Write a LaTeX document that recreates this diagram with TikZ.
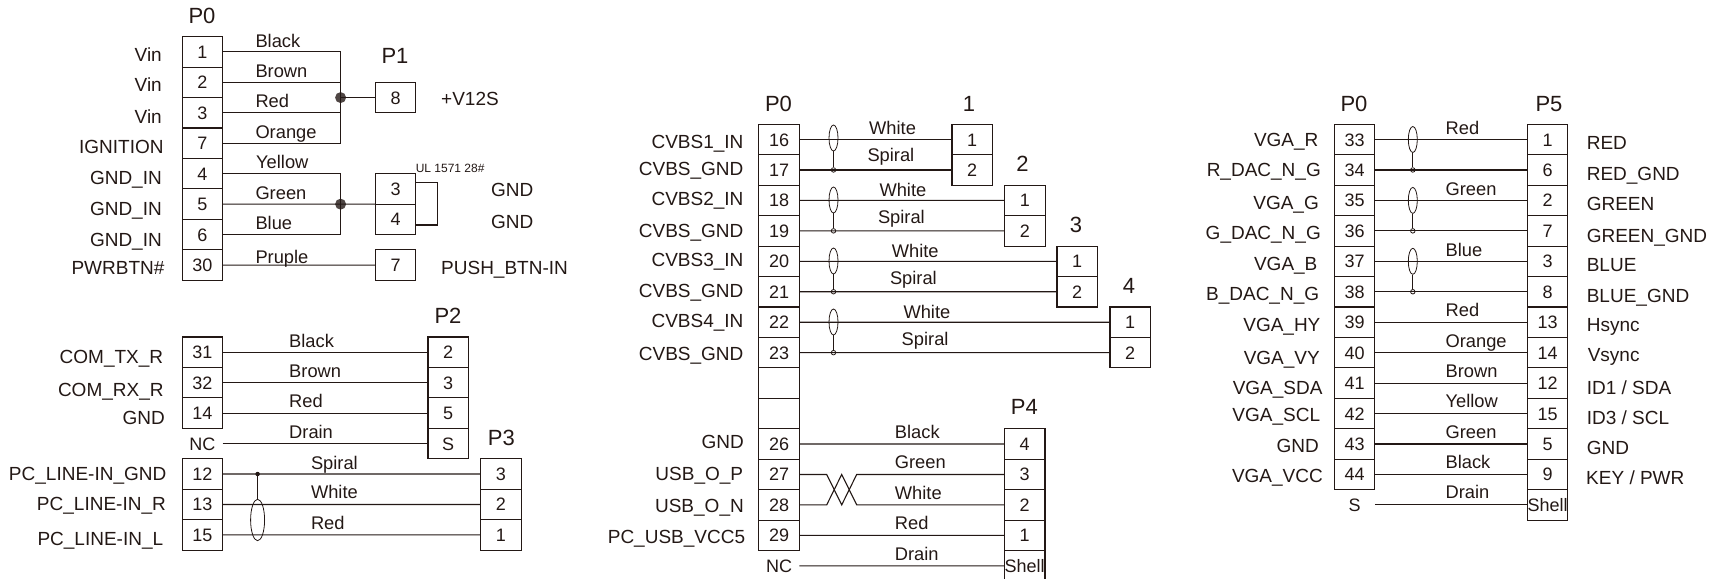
\documentclass[tikz,border=0pt]{standalone}
\usepackage{fontspec}
\setmainfont{Liberation Sans}
\usetikzlibrary{positioning,shapes.geometric}
\definecolor{ink}{HTML}{231815}

\begin{document}
\begin{tikzpicture}[
        x=1pt, y=-1pt,
        node distance=0pt,
        every node/.append style={text=ink},
        conn/.style={draw=ink, line width=1.1pt, minimum width=40.5pt, minimum height=30.45pt, inner sep=0pt, outer sep=0pt, text height=13pt, text depth=0pt, font=\fontsize{18}{20}\selectfont},
        free/.style={conn, draw=none},
        wire/.style={draw=ink, line width=1.1pt},
        hdr/.style={inner sep=0pt, text height=15.5pt, text depth=0pt, font=\fontsize{22}{24}\selectfont},
        sig/.style={inner sep=0pt, anchor=east, text height=13.8pt, text depth=0pt, font=\fontsize{19}{22}\selectfont},
        sigr/.style={sig, anchor=west},
        wirelab/.style={inner sep=0pt, anchor=west, text height=13.2pt, text depth=0pt, font=\fontsize{18.3}{20}\selectfont},
        dot/.style={circle, fill=ink!80, minimum size=11pt, inner sep=0pt},
        tap/.style={circle, draw=ink, line width=.8pt, minimum size=4.5pt, inner sep=0pt},
        shield/.style={ellipse, draw=ink, line width=.8pt, minimum width=9pt, minimum height=26pt, inner sep=0pt}
      ]
      \path[use as bounding box] (0,0) rectangle (1723,578);

      % --- Power block ---
      \node[hdr] (hp0) at (202,15.7) {P0};
      \node[conn] (a1) at (202.3,51.9) {1};
      \node[conn, below=of a1] (a2) {2};
      \node[conn, below=of a2] (a3) {3};
      \node[conn, below=of a3] (a7) {7};
      \node[conn, below=of a7] (a4) {4};
      \node[conn, below=of a4] (a5) {5};
      \node[conn, below=of a5] (a6) {6};
      \node[conn, below=of a6] (a30) {30};

      \node[hdr] (hp1) at (395,56) {P1};
      \node[conn] (b8) at (395.5,97.6) {8};
      \node[conn] (b3) at (395.5,188.9) {3};
      \node[conn, below=of b3] (b4) {4};
      \node[conn] (b7) at (395.5,265.05) {7};
      \node[dot] (j1) at (340.6,97.6) {};
      \node[dot] (j2) at (340.6,204.15) {};
      \coordinate (loop1) at (437.4,182.3);
      \coordinate (loop2) at (437.4,225);

      \node[sig] (s1) at (162,54.3) {Vin};
      \node[sig] (s2) at (162,84.3) {Vin};
      \node[sig] (s3) at (162,116.7) {Vin};
      \node[sig] (s7) at (163.8,147) {IGNITION};
      \node[sig] (s4) at (162,177.3) {GND\_IN};
      \node[sig] (s5) at (162,208.7) {GND\_IN};
      \node[sig] (s6) at (162,240) {GND\_IN};
      \node[sig] (s30) at (164.6,267.7) {PWRBTN\#};
      \node[sigr] (v12) at (441,98.3) {+V12S};
      \node[sigr] (g3) at (491,189.3) {GND};
      \node[sigr] (g4) at (491,221.3) {GND};
      \node[sigr] (btn) at (441,267.7) {PUSH\_BTN-IN};
      \node[inner sep=0pt, anchor=west, font=\fontsize{12}{14}\selectfont] (ul) at (415.6,168) {UL 1571 28\#};

      \node[wirelab] (w1) at (255.3,40.7) {Black};
      \node[wirelab] (w2) at (255.3,71) {Brown};
      \node[wirelab] (w3) at (255.3,101) {Red};
      \node[wirelab] (w7) at (255.3,132) {Orange};
      \node[wirelab] (w4) at (256,162.3) {Yellow};
      \node[wirelab] (w5) at (255.3,192.7) {Green};
      \node[wirelab] (w6) at (255.3,223) {Blue};
      \node[wirelab] (w30) at (255.3,257.3) {Pruple};

      \draw[wire] (a1.east) -| (j1.center);
      \draw[wire] (a2.east) -| (j1.center);
      \draw[wire] (a3.east) -| (j1.center);
      \draw[wire] (a7.east) -| (j1.center);
      \draw[wire] (j1.center) -- (b8.west);
      \draw[wire] (a4.east) -| (j2.center);
      \draw[wire] (a5.east) -- (j2.center) -- (b3.south west);
      \draw[wire] (a6.east) -| (j2.center);
      \draw[wire] (a30.east) -- (b7.west);
      \draw[wire] (b3.east |- loop1) -- (loop1) -- (loop2) -- (b4.east |- loop2);

      % --- COM block ---
      \node[hdr] (hp2) at (448,315.3) {P2};
      \node[hdr] (hp3) at (501.3,437.7) {P3};
      \node[conn] (c31) at (202.3,352.2) {31};
      \node[conn, below=of c31] (c32) {32};
      \node[conn, below=of c32] (c14) {14};
      \node[free, below=of c14] (cnc) {NC};
      \node[conn, below=of cnc] (c12) {12};
      \node[conn, below=of c12] (c13) {13};
      \node[conn, below=of c13] (c15) {15};

      \node[conn] (d2) at (448.2,352.2) {2};
      \node[conn, below=of d2] (d3) {3};
      \node[conn, below=of d3] (d5) {5};
      \node[conn, below=of d5] (dS) {S};
      \node[conn] (e3) at (500.8,474) {3};
      \node[conn, below=of e3] (e2) {2};
      \node[conn, below=of e2] (e1) {1};

      \node[sig] (sc1) at (163.4,356.3) {COM\_TX\_R};
      \node[sig] (sc2) at (163.8,389.7) {COM\_RX\_R};
      \node[sig] (sc3) at (165,417.3) {GND};
      \node[sig] (sl1) at (166.5,474) {PC\_LINE-IN\_GND};
      \node[sig] (sl2) at (166,503.3) {PC\_LINE-IN\_R};
      \node[sig] (sl3) at (163.4,539) {PC\_LINE-IN\_L};

      \node[wirelab] (wc1) at (289,340.7) {Black};
      \node[wirelab] (wc2) at (289,371) {Brown};
      \node[wirelab] (wc3) at (289,401.3) {Red};
      \node[wirelab] (wc4) at (289,431.7) {Drain};
      \node[wirelab] (wl1) at (310.8,462.7) {Spiral};
      \node[wirelab] (wl2) at (310.8,492.3) {White};
      \node[wirelab] (wl3) at (310.8,522.7) {Red};

      \draw[wire] (c31.east) -- (d2.west);
      \draw[wire] (c32.east) -- (d3.west);
      \draw[wire] (c14.east) -- (d5.west);
      \draw[wire] (cnc.east) -- (dS.west);
      \draw[wire] (c12.east) -- (e3.west);
      \draw[wire] (c13.east) -- (e2.west);
      \draw[wire] (c15.east) -- (e1.west);

      \node[shield, minimum width=14pt, minimum height=41.4pt] (shl) at (257.6,520) {};
      \node[circle, fill=ink, minimum size=4.5pt, inner sep=0pt] (tl) at (257.6,474) {};
      \draw[wire, line width=.8pt] (tl) -- (shl.north);

      % --- CVBS and USB block ---
      \node[hdr] (hp0b) at (778.5,103.3) {P0};
      \node[conn] (f16) at (779,139.5) {16};
      \node[conn, below=of f16] (f17) {17};
      \node[conn, below=of f17] (f18) {18};
      \node[conn, below=of f18] (f19) {19};
      \node[conn, below=of f19] (f20) {20};
      \node[conn, below=of f20] (f21) {21};
      \node[conn, below=of f21] (f22) {22};
      \node[conn, below=of f22] (f23) {23};
      \node[conn, below=of f23] (fa) {};
      \node[conn, below=of fa] (fb) {};
      \node[conn, below=of fb] (f26) {26};
      \node[conn, below=of f26] (f27) {27};
      \node[conn, below=of f27] (f28) {28};
      \node[conn, below=of f28] (f29) {29};
      \node[free, below=of f29] (fnc) {NC};

      \node[hdr] (h1) at (969,103.3) {1};
      \node[conn] (k1a) at (972.2,139.5) {1};
      \node[conn, below=of k1a] (k1b) {2};
      \node[hdr] (h2) at (1022.5,164) {2};
      \node[conn] (k2a) at (1024.8,200.4) {1};
      \node[conn, below=of k2a] (k2b) {2};
      \node[hdr] (h3) at (1076,224.7) {3};
      \node[conn] (k3a) at (1077.2,261.3) {1};
      \node[conn, below=of k3a] (k3b) {2};
      \node[hdr] (h4) at (1129,285.7) {4};
      \node[conn] (k4a) at (1130.2,322.2) {1};
      \node[conn, below=of k4a] (k4b) {2};

      \node[hdr] (hp4) at (1024.3,406.7) {P4};
      \node[conn] (m4) at (1024.7,444) {4};
      \node[conn, below=of m4] (m3) {3};
      \node[conn, below=of m3] (m2) {2};
      \node[conn, below=of m2] (m1) {1};
      \node[conn, below=of m1] (ms) {Shell};

      \node[sig] (t1) at (743.6,141.3) {CVBS1\_IN};
      \node[sig] (t2) at (743.6,168.3) {CVBS\_GND};
      \node[sig] (t3) at (743.6,198.7) {CVBS2\_IN};
      \node[sig] (t4) at (743.6,231) {CVBS\_GND};
      \node[sig] (t5) at (743.6,259.7) {CVBS3\_IN};
      \node[sig] (t6) at (743.6,290.3) {CVBS\_GND};
      \node[sig] (t7) at (743.6,320.7) {CVBS4\_IN};
      \node[sig] (t8) at (743.6,353.3) {CVBS\_GND};
      \node[sig] (t9) at (744,441.7) {GND};
      \node[sig] (t10) at (743.3,473.3) {USB\_O\_P};
      \node[sig] (t11) at (744,505.7) {USB\_O\_N};
      \node[sig] (t12) at (745.3,536.3) {PC\_USB\_VCC5};

      \node[wirelab] (x1) at (869,127.7) {White};
      \node[wirelab] (x2) at (867.3,154.7) {Spiral};
      \node[wirelab] (x3) at (879.3,190.3) {White};
      \node[wirelab] (x4) at (877.8,217.3) {Spiral};
      \node[wirelab] (x5) at (891.6,251.3) {White};
      \node[wirelab] (x6) at (889.8,278) {Spiral};
      \node[wirelab] (x7) at (903.3,311.7) {White};
      \node[wirelab] (x8) at (901.5,339) {Spiral};
      \node[wirelab] (x9) at (894.7,431.7) {Black};
      \node[wirelab] (x10) at (894.7,462.3) {Green};
      \node[wirelab] (x11) at (894.7,492.7) {White};
      \node[wirelab] (x12) at (894.7,523.3) {Red};
      \node[wirelab] (x13) at (894.7,553.7) {Drain};

      \draw[wire] (f16.east) -- (k1a.west);
      \draw[wire] (f17.east) -- (k1b.west);
      \draw[wire] (f18.east) -- (k2a.west);
      \draw[wire] (f19.east) -- (k2b.west);
      \draw[wire] (f20.east) -- (k3a.west);
      \draw[wire] (f21.east) -- (k3b.west);
      \draw[wire] (f22.east) -- (k4a.west);
      \draw[wire] (f23.east) -- (k4b.west);
      \draw[wire] (f26.east) -- (m4.west);
      \draw[wire] (f29.east) -- (m1.west);
      \draw[wire] (fnc.east) -- (ms.west);

      % twisted pair
      \coordinate (tw1) at (826.7,474.45);
      \coordinate (tw2) at (841.7,504.9);
      \coordinate (tw3) at (856.7,474.45);
      \coordinate (tw4) at (826.7,504.9);
      \coordinate (tw5) at (841.7,474.45);
      \coordinate (tw6) at (856.7,504.9);
      \draw[wire] (f27.east) -- (tw1) -- (tw2) -- (tw3) -- (m3.west);
      \draw[wire] (f28.east) -- (tw4) -- (tw5) -- (tw6) -- (m2.west);

      % shields
      \node[shield] (sh1) at (833.5,138) {};
      \node[tap] (tp1) at (833.5,169.95) {};
      \node[shield] (sh2) at (833.5,200) {};
      \node[tap] (tp2) at (833.5,230.85) {};
      \node[shield] (sh3) at (833.5,261) {};
      \node[tap] (tp3) at (833.5,291.75) {};
      \node[shield] (sh4) at (833.5,322) {};
      \node[tap] (tp4) at (833.5,352.65) {};
      \draw[wire, line width=.8pt] (sh1.south) -- (tp1);
      \draw[wire, line width=.8pt] (sh2.south) -- (tp2);
      \draw[wire, line width=.8pt] (sh3.south) -- (tp3);
      \draw[wire, line width=.8pt] (sh4.south) -- (tp4);

      % --- VGA block ---
      \node[hdr] (hp0c) at (1354,104) {P0};
      \node[hdr] (hp5) at (1549,104) {P5};
      \node[conn] (g33) at (1354.5,139.5) {33};
      \node[conn, below=of g33] (g34) {34};
      \node[conn, below=of g34] (g35) {35};
      \node[conn, below=of g35] (g36) {36};
      \node[conn, below=of g36] (g37) {37};
      \node[conn, below=of g37] (g38) {38};
      \node[conn, below=of g38] (g39) {39};
      \node[conn, below=of g39] (g40) {40};
      \node[conn, below=of g40] (g41) {41};
      \node[conn, below=of g41] (g42) {42};
      \node[conn, below=of g42] (g43) {43};
      \node[conn, below=of g43] (g44) {44};
      \node[free, below=of g44] (gs) {S};

      \node[conn] (n1) at (1547.5,139.5) {1};
      \node[conn, below=of n1] (n6) {6};
      \node[conn, below=of n6] (n2) {2};
      \node[conn, below=of n2] (n7) {7};
      \node[conn, below=of n7] (n3) {3};
      \node[conn, below=of n3] (n8) {8};
      \node[conn, below=of n8] (n13) {13};
      \node[conn, below=of n13] (n14) {14};
      \node[conn, below=of n14] (n12) {12};
      \node[conn, below=of n12] (n15) {15};
      \node[conn, below=of n15] (n5) {5};
      \node[conn, below=of n5] (n9) {9};
      \node[conn, below=of n9] (ns) {Shell};

      \node[sig] (v1) at (1318.6,140) {VGA\_R};
      \node[sig] (v2) at (1321,170) {R\_DAC\_N\_G};
      \node[sig] (v3) at (1319,202.3) {VGA\_G};
      \node[sig] (v4) at (1321,232.3) {G\_DAC\_N\_G};
      \node[sig] (v5) at (1317.6,263.3) {VGA\_B};
      \node[sig] (v6) at (1319.3,294) {B\_DAC\_N\_G};
      \node[sig] (v7) at (1320.6,324.3) {VGA\_HY};
      \node[sig] (v8) at (1320,357.3) {VGA\_VY};
      \node[sig] (v9) at (1322.7,387.7) {VGA\_SDA};
      \node[sig] (v10) at (1320.3,414.3) {VGA\_SCL};
      \node[sig] (v11) at (1319,446) {GND};
      \node[sig] (v12b) at (1323,475.7) {VGA\_VCC};

      \node[sigr] (r1) at (1586.6,142.7) {RED};
      \node[sigr] (r2) at (1586.6,173.3) {RED\_GND};
      \node[sigr] (r3) at (1586.6,204) {GREEN};
      \node[sigr] (r4) at (1586.6,235.7) {GREEN\_GND};
      \node[sigr] (r5) at (1586.6,264.3) {BLUE};
      \node[sigr] (r6) at (1586.6,295.7) {BLUE\_GND};
      \node[sigr] (r7) at (1586.6,325) {Hsync};
      \node[sigr] (r8) at (1587.6,354.3) {Vsync};
      \node[sigr] (r9) at (1586.6,387.7) {ID1 / SDA};
      \node[sigr] (r10) at (1586.6,417.3) {ID3 / SCL};
      \node[sigr] (r11) at (1586.6,447.7) {GND};
      \node[sigr] (r12) at (1586,477.7) {KEY / PWR};

      \node[wirelab] (y1) at (1445.4,127.7) {Red};
      \node[wirelab] (y2) at (1445.4,189) {Green};
      \node[wirelab] (y3) at (1445.4,249.7) {Blue};
      \node[wirelab] (y4) at (1445.4,310) {Red};
      \node[wirelab] (y5) at (1445.4,341) {Orange};
      \node[wirelab] (y6) at (1445.4,371) {Brown};
      \node[wirelab] (y7) at (1445.4,401.3) {Yellow};
      \node[wirelab] (y8) at (1445.4,432) {Green};
      \node[wirelab] (y9) at (1445.4,462.3) {Black};
      \node[wirelab] (y10) at (1445.4,492.3) {Drain};

      \draw[wire] (g33.east) -- (n1.west);
      \draw[wire] (g34.east) -- (n6.west);
      \draw[wire] (g35.east) -- (n2.west);
      \draw[wire] (g36.east) -- (n7.west);
      \draw[wire] (g37.east) -- (n3.west);
      \draw[wire] (g38.east) -- (n8.west);
      \draw[wire] (g39.east) -- (n13.west);
      \draw[wire] (g40.east) -- (n14.west);
      \draw[wire] (g41.east) -- (n12.west);
      \draw[wire] (g42.east) -- (n15.west);
      \draw[wire] (g43.east) -- (n5.west);
      \draw[wire] (g44.east) -- (n9.west);
      \draw[wire] (gs.east) -- (ns.west);

      \node[shield] (sv1) at (1412.8,139.5) {};
      \node[tap] (tv1) at (1412.8,169.95) {};
      \node[shield] (sv2) at (1412.8,200.4) {};
      \node[tap] (tv2) at (1412.8,230.85) {};
      \node[shield] (sv3) at (1412.8,261.3) {};
      \node[tap] (tv3) at (1412.8,291.75) {};
      \draw[wire, line width=.8pt] (sv1.south) -- (tv1);
      \draw[wire, line width=.8pt] (sv2.south) -- (tv2);
      \draw[wire, line width=.8pt] (sv3.south) -- (tv3);

    \end{tikzpicture}
\end{document}
